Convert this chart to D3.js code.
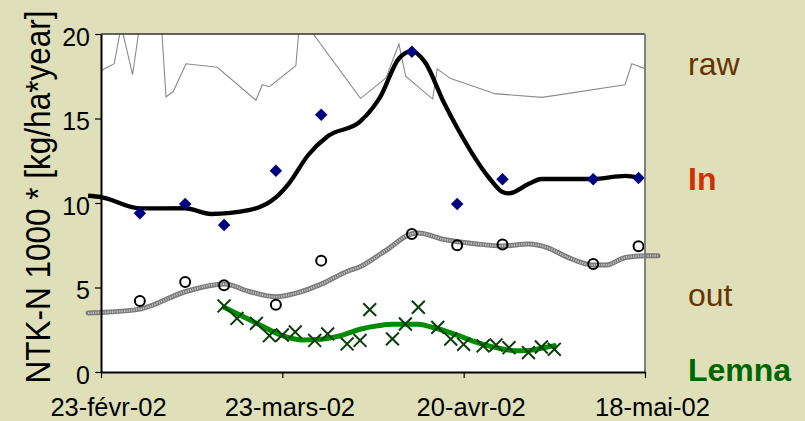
<!DOCTYPE html>
<html>
<head>
<meta charset="utf-8">
<script src="https://cdn.jsdelivr.net/npm/d3@7"></script>
<style>
  html, body { margin: 0; padding: 0; background: #dfdfba; }
  svg { display: block; font-family: "Liberation Sans", Arial, sans-serif; }
</style>
</head>
<body>
<svg id="chart" width="805" height="421"></svg>
<script>
// ---- data ---------------------------------------------------------------
// raw NTK-N record (values above 20 run off the top of the plot)
const rawDates = ["2002-02-23 00:00","2002-02-25 01:00","2002-02-26 03:00","2002-02-27 21:00",
  "2002-03-01 02:00","2002-03-04 03:00","2002-03-05 01:00","2002-03-06 04:00","2002-03-08 03:00",
  "2002-03-12 23:00","2002-03-18 22:00","2002-03-19 22:00","2002-03-21 00:00","2002-03-25 02:00",
  "2002-03-26 00:00","2002-03-27 00:00","2002-04-04 02:00","2002-04-08 00:00","2002-04-10 00:00",
  "2002-04-11 01:00","2002-04-15 05:00","2002-04-15 22:00","2002-04-18 00:00","2002-04-24 20:00",
  "2002-05-02 03:00","2002-05-14 22:00","2002-05-15 23:00","2002-05-18 04:00"];
const rawValues = [17.83, 18.24, 20.47, 17.59, 20.83, 21.7, 16.27, 16.61, 18.24,
  18.03, 16.08, 17.0, 16.88, 18.12, 22.2, 20.41, 16.18, 17.4, 19.41,
  17.5, 16.15, 17.93, 17.36, 16.47, 16.25, 17.0, 18.24, 17.93];

// weekly samples, inflow and outflow
const sampleDates = ["2002-03-01","2002-03-08","2002-03-14","2002-03-22","2002-03-29",
  "2002-04-12","2002-04-19","2002-04-26","2002-05-10","2002-05-17"];
const inValues  = [9.39, 9.94, 8.70, 11.91, 15.22, 18.95, 9.94, 11.40, 11.40, 11.48];
const outValues = [4.20, 5.33, 5.13, 3.98, 6.59, 8.17, 7.50, 7.54, 6.39, 7.44];

// Lemna samples
const lemnaDates = ["2002-03-14","2002-03-16","2002-03-19","2002-03-21","2002-03-23","2002-03-25",
  "2002-03-28","2002-03-30","2002-04-02","2002-04-04","2002-04-05 12:00","2002-04-09","2002-04-11",
  "2002-04-13","2002-04-16","2002-04-18","2002-04-20","2002-04-23","2002-04-25","2002-04-27",
  "2002-04-30","2002-05-02","2002-05-04"];
const lemnaValues = [3.91, 3.17, 2.88, 2.15, 2.19, 2.37, 1.87, 2.25, 1.66, 1.87, 3.69, 1.96, 2.84,
  3.83, 2.64, 1.95, 1.64, 1.54, 1.60, 1.44, 1.15, 1.48, 1.34];

// smoothed trends
const inTrendDates = ["2002-02-21","2002-02-23","2002-03-01","2002-03-08","2002-03-12","2002-03-18",
  "2002-03-22","2002-03-24","2002-03-27","2002-03-30","2002-04-04","2002-04-06","2002-04-07",
  "2002-04-10","2002-04-12","2002-04-14","2002-04-17","2002-04-19","2002-04-24","2002-04-26",
  "2002-04-27","2002-04-30","2002-05-02","2002-05-10","2002-05-15","2002-05-17"];
const inTrendValues = [10.43, 10.35, 9.68, 9.69, 9.35, 9.59, 10.33, 11.15, 12.84, 13.95, 14.81,
  15.65, 16.2, 18.55, 18.99, 18.35, 15.9, 14.45, 11.45, 10.65, 10.57, 11.12, 11.42, 11.42, 11.6, 11.5];

const outTrendDates = ["2002-02-21","2002-02-23","2002-03-01","2002-03-08","2002-03-14","2002-03-18",
  "2002-03-22","2002-03-25","2002-03-29","2002-04-02","2002-04-04","2002-04-08","2002-04-12",
  "2002-04-13","2002-04-17","2002-04-22","2002-04-26","2002-04-30","2002-05-03","2002-05-06",
  "2002-05-10","2002-05-12","2002-05-15","2002-05-18","2002-05-20"];
const outTrendValues = [3.49, 3.52, 3.72, 4.75, 5.21, 4.75, 4.45, 4.65, 5.2, 5.95, 6.23, 7.2, 8.18,
  8.22, 7.84, 7.58, 7.46, 7.57, 7.35, 6.8, 6.33, 6.33, 6.78, 6.88, 6.88];

const lemnaTrendDates = ["2002-03-14","2002-03-17","2002-03-20","2002-03-23","2002-03-26","2002-03-29",
  "2002-04-01","2002-04-04","2002-04-07","2002-04-09","2002-04-13","2002-04-15","2002-04-19",
  "2002-04-22","2002-04-25","2002-04-28","2002-04-30","2002-05-02","2002-05-04"];
const lemnaTrendValues = [3.83, 3.27, 2.7, 2.15, 1.9, 1.94, 2.15, 2.53, 2.75, 2.82, 2.82, 2.66, 2.18,
  1.75, 1.44, 1.26, 1.27, 1.41, 1.56];

// axes
const xTickDates  = ["2002-02-23","2002-03-23","2002-04-20","2002-05-18"];
const xTickLabels = ["23-févr-02","23-mars-02","20-avr-02","18-mai-02"];
const yTicks = [0, 5, 10, 15, 20];
const yTitle = "NTK-N 1000 * [kg/ha*year]";

const seriesLabels = [
  { text: "raw",   color: "#663300", bold: false, y: 75 },
  { text: "In",    color: "#cc3300", bold: true,  y: 190 },
  { text: "out",   color: "#663300", bold: false, y: 306 },
  { text: "Lemna", color: "#006600", bold: true,  y: 381 }
];

// ---- helpers ------------------------------------------------------------
const pFull = d3.utcParse("%Y-%m-%d %H:%M"), pDay = d3.utcParse("%Y-%m-%d");
const parse = s => pFull(s) || pDay(s);
const zip = (ds, vs) => ds.map((d, i) => ({ date: parse(d), value: vs[i] }));

const raw = zip(rawDates, rawValues);
const inPts = zip(sampleDates, inValues);
const outPts = zip(sampleDates, outValues);
const lemnaPts = zip(lemnaDates, lemnaValues);
const inTrend = zip(inTrendDates, inTrendValues);
const outTrend = zip(outTrendDates, outTrendValues);
const lemnaTrend = zip(lemnaTrendDates, lemnaTrendValues);

// ---- layout -------------------------------------------------------------
const plot = { left: 101, right: 645, top: 34, bottom: 372 };
const svg = d3.select("#chart");

const x = d3.scaleUtc().domain([parse("2002-02-23"), parse("2002-05-18")]).range([plot.left, plot.right]);
const y = d3.scaleLinear().domain([0, 20]).range([plot.bottom, plot.top]);

svg.append("rect").attr("width", 805).attr("height", 421).attr("fill", "#dfdfba");
svg.append("rect")
  .attr("x", plot.left).attr("y", plot.top)
  .attr("width", plot.right - plot.left).attr("height", plot.bottom - plot.top)
  .attr("fill", "#ffffff");

svg.append("defs").append("clipPath").attr("id", "plotClip")
  .append("rect")
  .attr("x", plot.left).attr("y", plot.top)
  .attr("width", plot.right - plot.left).attr("height", plot.bottom - plot.top);

const line = d3.line().x(d => x(d.date)).y(d => y(d.value));
const smooth = d3.line().x(d => x(d.date)).y(d => y(d.value)).curve(d3.curveMonotoneX);

// raw record
svg.append("path").datum(raw)
  .attr("clip-path", "url(#plotClip)")
  .attr("d", line)
  .attr("fill", "none").attr("stroke", "#8a8a8a").attr("stroke-width", 1.1);

// outflow trend: grey textured band
svg.append("path").datum(outTrend)
  .attr("d", smooth)
  .attr("fill", "none").attr("stroke", "#7a7a7a").attr("stroke-width", 5)
  .attr("stroke-linecap", "round");
svg.append("path").datum(outTrend)
  .attr("d", smooth)
  .attr("fill", "none").attr("stroke", "#c4c4c4").attr("stroke-width", 2.2)
  .attr("stroke-dasharray", "1.2,1.2");

// outflow samples
svg.append("g").selectAll("circle").data(outPts).join("circle")
  .attr("cx", d => x(d.date)).attr("cy", d => y(d.value)).attr("r", 5)
  .attr("fill", "none").attr("stroke", "#000").attr("stroke-width", 2);

// inflow trend
svg.append("path").datum(inTrend)
  .attr("d", smooth)
  .attr("fill", "none").attr("stroke", "#000").attr("stroke-width", 4.3)
  .attr("stroke-linejoin", "round");

// inflow samples (diamonds)
const diamond = d3.symbol().type(d3.symbolSquare).size(78);
svg.append("g").selectAll("path").data(inPts).join("path")
  .attr("transform", d => `translate(${x(d.date)},${y(d.value)}) rotate(45)`)
  .attr("d", diamond)
  .attr("fill", "#000080");

// Lemna trend
svg.append("path").datum(lemnaTrend)
  .attr("d", smooth)
  .attr("fill", "none").attr("stroke", "#008c00").attr("stroke-width", 5)
  .attr("stroke-linecap", "round");

// Lemna samples (crosses)
const cross = d3.symbol().type(d3.symbolX).size(110);
svg.append("g").selectAll("path").data(lemnaPts).join("path")
  .attr("transform", d => `translate(${x(d.date)},${y(d.value)})`)
  .attr("d", cross)
  .attr("fill", "none").attr("stroke", "#0b3d0b").attr("stroke-width", 2);

// frame
svg.append("line")
  .attr("x1", plot.left).attr("x2", plot.right).attr("y1", plot.top).attr("y2", plot.top)
  .attr("stroke", "#333").attr("stroke-width", 1.5);
svg.append("line")
  .attr("x1", plot.right).attr("x2", plot.right).attr("y1", plot.top).attr("y2", plot.bottom)
  .attr("stroke", "#808080").attr("stroke-width", 2);

// axes
const yAxis = svg.append("g")
  .attr("transform", `translate(${plot.left},0)`)
  .call(d3.axisLeft(y).tickValues(yTicks).tickSize(6).tickSizeOuter(0).tickPadding(5));
const xAxis = svg.append("g")
  .attr("transform", `translate(0,${plot.bottom})`)
  .call(d3.axisBottom(x).tickValues(xTickDates.map(parse)).tickSize(6).tickSizeOuter(0)
    .tickFormat((d, i) => xTickLabels[i]));

[yAxis, xAxis].forEach(g => {
  g.select(".domain").attr("stroke", "#000").attr("stroke-width", 2);
  g.selectAll(".tick line").attr("stroke", "#000").attr("stroke-width", 1.2);
  g.selectAll("text").attr("fill", "#000")
    .style("font-family", "'Liberation Sans', Arial, sans-serif").style("font-size", "25px");
});
yAxis.selectAll("text").attr("dy", "0.45em");
xAxis.selectAll("text").attr("y", 0).attr("dy", 0)
  .attr("transform", "translate(7,44)").style("font-size", "25.5px");

// y-axis title
svg.append("text")
  .attr("transform", "translate(50,197) rotate(-90) scale(1,1.14)")
  .attr("text-anchor", "middle")
  .style("font-size", "31.5px")
  .attr("fill", "#000")
  .text(yTitle);

// series labels
svg.append("g").selectAll("text").data(seriesLabels).join("text")
  .attr("x", 688).attr("y", d => d.y)
  .attr("fill", d => d.color)
  .style("font-size", "32px")
  .style("font-weight", d => d.bold ? "bold" : "normal")
  .text(d => d.text);
</script>
</body>
</html>
